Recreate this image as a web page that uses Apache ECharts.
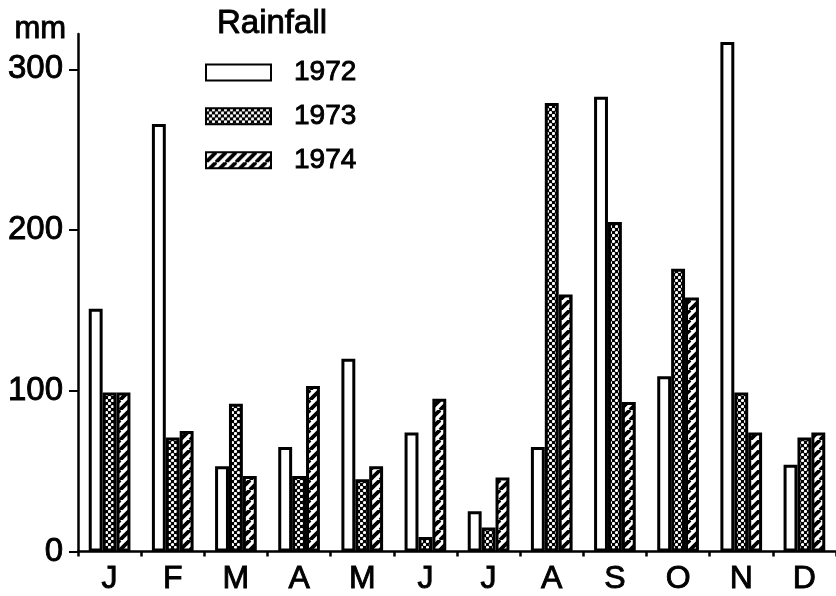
<!DOCTYPE html>
<html>
<head>
<meta charset="utf-8">
<script src="https://cdn.jsdelivr.net/npm/echarts@6/dist/echarts.min.js"></script>
<style>
html,body{margin:0;padding:0;background:#fff;}
#chart{width:836px;height:596px;}
</style>
</head>
<body>
<div id="chart"></div>
<script>
const months = ['J','F','M','A','M','J','J','A','S','O','N','D'];
const years = ['1972','1973','1974'];
const rain1972 = [151, 266, 53, 65, 120, 74, 25, 65, 283, 109, 317, 54];
const rain1973 = [99, 71, 92, 47, 45, 9, 15, 279, 205, 176, 99, 71];
const rain1974 = [99, 75, 47, 103, 53, 95, 46, 160, 93, 158, 74, 74];
const yTicks = [0, 100, 200, 300];

function dotTile() {
  const s = 6;
  const c = document.createElement('canvas');
  c.width = s; c.height = s;
  const g = c.getContext('2d');
  g.fillStyle = '#000'; g.fillRect(0,0,s,s);
  g.fillStyle = '#fff';
  [[1.5,1.5],[4.5,4.5]].forEach(p => { g.beginPath(); g.arc(p[0],p[1],1.6,0,Math.PI*2); g.fill(); });
  return c;
}
function hatchTile() {
  const s = 10;
  const c = document.createElement('canvas');
  c.width = s; c.height = s;
  const g = c.getContext('2d');
  g.fillStyle = '#fff'; g.fillRect(0,0,s,s);
  g.strokeStyle = '#000'; g.lineWidth = 3.8;
  [-s, 0, s].forEach(o => { g.beginPath(); g.moveTo(o, s); g.lineTo(o + s, 0); g.stroke(); });
  return c;
}

const font = 'Liberation Sans';
const thick = { textBorderColor: '#000', textBorderWidth: 0.9 };
const chart = echarts.init(document.getElementById('chart'));
const baseStyle = { borderColor: '#000', borderWidth: 3 };
chart.setOption({
  animation: false,
  backgroundColor: '#fff',
  title: {
    text: 'Rainfall', left: 217, top: 7, padding: 0,
    textStyle: Object.assign({ fontFamily: font, fontSize: 33, fontWeight: 'normal', color: '#000' }, thick)
  },
  graphic: [{
    type: 'text', left: 14, top: 14,
    style: { text: 'mm', fontFamily: font, fontSize: 31, fill: '#000', stroke: '#000', lineWidth: 0.9 }
  }],
  legend: {
    orient: 'vertical', left: 205, top: 58, padding: 0,
    itemWidth: 65, itemHeight: 16, itemGap: 15,
    icon: 'rect',
    data: years,
    textStyle: Object.assign({ fontFamily: font, fontSize: 28, color: '#000', padding: [0,0,0,18] }, thick)
  },
  grid: { left: 78, top: 34, width: 764, height: 518, containLabel: false },
  xAxis: {
    type: 'category', data: months,
    axisLine: { lineStyle: { color: '#000', width: 2.5 } },
    axisTick: { show: true, length: 5, lineStyle: { color: '#000', width: 2.5 } },
    axisLabel: Object.assign({ margin: 12, fontFamily: font, fontSize: 32, color: '#000' }, thick)
  },
  yAxis: {
    type: 'value', min: 0, max: 322,
    splitLine: { show: false },
    axisLine: { show: true, lineStyle: { color: '#000', width: 2.5 } },
    axisTick: { show: true, length: 9, lineStyle: { color: '#000', width: 2 }, customValues: yTicks },
    axisLabel: Object.assign({ margin: 15, fontFamily: font, fontSize: 33, color: '#000', customValues: yTicks }, thick)
  },
  series: [
    { name: '1972', type: 'bar', data: rain1972, barGap: '0%', barCategoryGap: '34%',
      itemStyle: Object.assign({ color: '#fff' }, baseStyle) },
    { name: '1973', type: 'bar', data: rain1973, barGap: '0%', barCategoryGap: '34%',
      itemStyle: Object.assign({ color: { image: dotTile(), repeat: 'repeat' } }, baseStyle) },
    { name: '1974', type: 'bar', data: rain1974, barGap: '0%', barCategoryGap: '34%',
      itemStyle: Object.assign({ color: { image: hatchTile(), repeat: 'repeat' } }, baseStyle) }
  ]
});
</script>
</body>
</html>
